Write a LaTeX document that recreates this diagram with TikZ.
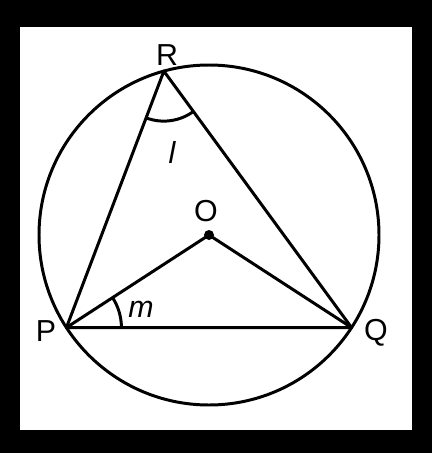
\documentclass[tikz,border=0pt]{standalone}
\usepackage{fontspec}
\setmainfont{Liberation Sans}
\usetikzlibrary{calc}
\begin{document}
\begin{tikzpicture}[x=0.02cm,y=0.02cm,line width=1.7pt,
  lbl/.style={font=\LARGE},
  ang/.style={font=\LARGE\itshape}]
 \fill[black] (0,0) rectangle (432,-453);
 \fill[white] (20,-27) rectangle (412,-430);
 \useasboundingbox (0,0) rectangle (432,-453);

 \coordinate (O) at (209,-235);
 \coordinate (P) at ($(O)+(213:170)$);
 \coordinate (Q) at ($(O)+(327:170)$);
 \coordinate (R) at ($(O)+(105.4:170)$);

 \draw (O) circle (170);
 \draw[line join=round] (P) -- (R) -- (Q) -- cycle;
 \draw (P) -- (O) -- (Q);
 \fill (O) circle (5);

 % angle marks
 \draw ($(R)+(248.7:50)$) arc (248.7:306.6:50);
 \draw ($(P)+(0:55)$) arc (0:33:55);

 \node[lbl] (labR) at (167,-55) {R};
 \node[lbl] (labO) at (206,-211) {O};
 \node[lbl] (labP) at (46,-331) {P};
 \node[lbl] (labQ) at (376,-333) {Q};
 \node[ang] (labl) at (172,-152) {l};
 \node[ang] (labm) at (141,-309) {m};
\end{tikzpicture}
\end{document}
